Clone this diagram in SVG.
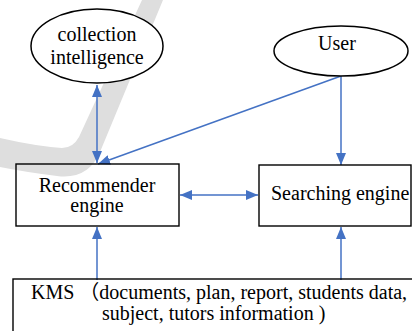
<svg xmlns="http://www.w3.org/2000/svg" width="412" height="331" viewBox="0 0 412 331">
<style>
  .shape { fill: none; stroke: #000; stroke-width: 1.4; }
  .oval { fill: #fff; stroke: #000; stroke-width: 1.5; }
  .edge { stroke: #4472C4; stroke-width: 1.5; fill: none; }
</style>
<defs>
  <marker id="ah" markerUnits="userSpaceOnUse" markerWidth="12" markerHeight="10" viewBox="0 0 12 10" refX="12" refY="5" orient="auto-start-reverse">
    <path d="M0,0 L12,5 L0,10 Z" fill="#4472C4"/>
  </marker>
</defs>
<rect width="412" height="331" fill="#fff"/>
<path d="M142 0 L163 0 L100 152 Q 88 180 57 176 Q 25 172 0 167 L 0 138 Q 35 146 62 148 Q 73 148 79 137 Z" fill="#dedede"/>
<g id="connectors">
  <line class="edge" x1="97" y1="85" x2="97" y2="163" marker-start="url(#ah)" marker-end="url(#ah)"/>
  <line class="edge" x1="341" y1="76" x2="98" y2="164" marker-end="url(#ah)"/>
  <line class="edge" x1="341" y1="76" x2="341" y2="165" marker-end="url(#ah)"/>
  <line class="edge" x1="180" y1="195" x2="258" y2="195" marker-start="url(#ah)" marker-end="url(#ah)"/>
  <line class="edge" x1="97" y1="280" x2="97" y2="227" marker-end="url(#ah)"/>
  <line class="edge" x1="341" y1="280" x2="341" y2="227" marker-end="url(#ah)"/>
</g>
<g font-family="Liberation Serif, DejaVu Serif, serif" font-size="20" fill="#000">
<g id="collection">
  <ellipse class="oval" cx="97" cy="46" rx="66" ry="37"/>
  <text x="97" y="41" text-anchor="middle">collection</text>
  <text x="97" y="64" text-anchor="middle">intelligence</text>
</g>
<g id="user">
  <ellipse class="oval" cx="341" cy="51" rx="67" ry="25"/>
  <text x="337" y="50" text-anchor="middle">User</text>
</g>
<g id="recommender">
  <rect class="shape" x="16" y="164" width="163" height="62"/>
  <text x="97" y="192" text-anchor="middle">Recommender</text>
  <text x="97" y="212" text-anchor="middle">engine</text>
</g>
<g id="searching">
  <rect class="shape" x="259" y="165" width="152" height="61"/>
  <text x="271" y="200">Searching engine</text>
</g>
<g id="kms">
  <rect class="shape" x="13" y="279" width="410" height="60"/>
  <text x="31" y="299">KMS <tspan font-family="Noto Sans CJK SC, sans-serif">（</tspan>documents, plan, report, students data,</text>
  <text x="102" y="320">subject, tutors information )</text>
</g>
</g>
</svg>
